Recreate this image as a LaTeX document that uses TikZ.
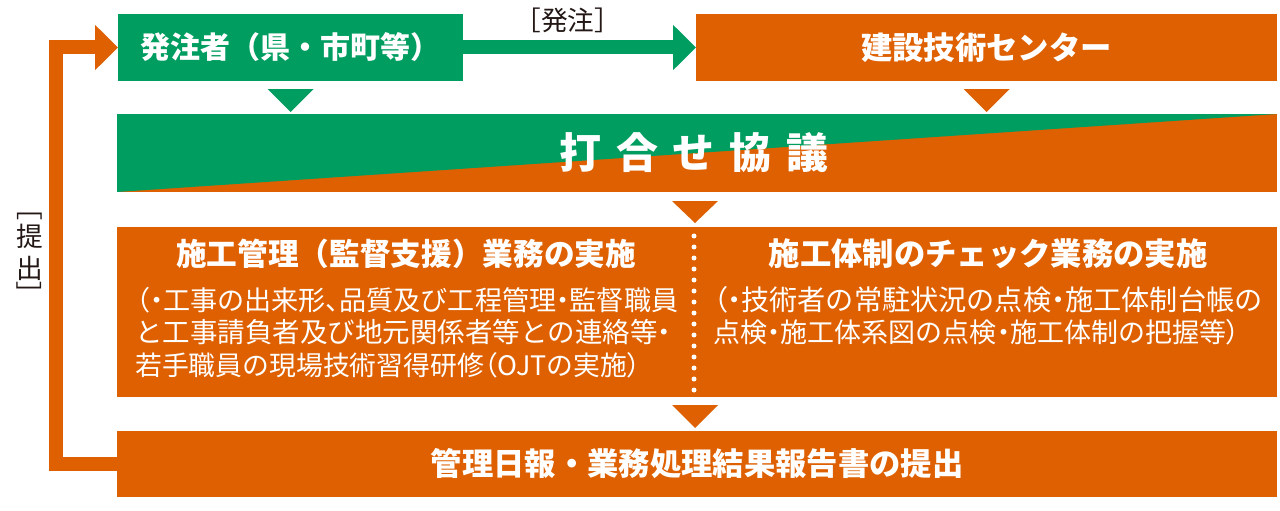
\documentclass[tikz,border=0pt]{standalone}
\usepackage{fontspec}
\usepackage{graphicx}
\usetikzlibrary{arrows.meta,calc}
\newfontfamily\jp{Noto Sans CJK JP}
\newcommand\pchunk[1]{{\addfontfeatures{RawFeature=+palt}#1}}
\definecolor{kgreen}{RGB}{0,157,97}
\definecolor{korange}{RGB}{222,96,0}
\definecolor{kdark}{RGB}{35,24,21}
\tikzset{
  box/.style={rectangle, inner sep=0pt, outer sep=0pt, text=white},
  gbox/.style={box, fill=kgreen},
  obox/.style={box, fill=korange},
  conn/.style={line width=10.5pt, -{Triangle[length=17.25pt,width=33pt]}},
  titletext/.style={text=white, inner sep=0pt, font=\jp\bfseries\fontsize{23pt}{27pt}\selectfont},
  bodytext/.style={text=white, inner sep=0pt, anchor=west, font=\jp\fontsize{19.5pt}{23pt}\selectfont},
  darktext/.style={text=kdark, inner sep=0pt, font=\jp\fontsize{20pt}{24pt}\selectfont},
}
\begin{document}
\begin{tikzpicture}[x=0.75pt, y=-0.75pt]
\useasboundingbox (0,0) rectangle (1280,510);

% top boxes
\node[gbox, minimum width=258.75pt, minimum height=50.25pt,
      font=\jp\bfseries\fontsize{22.5pt}{27pt}\selectfont] (hach) at (290.5,47.5) {発注者（県・市町等）};
\node[obox, minimum width=435.75pt, minimum height=50.25pt,
      font=\jp\bfseries\fontsize{23.5pt}{27pt}\selectfont] (kens) at (986.5,47.5) {建設技術センター};

% order arrow
\draw[conn, kgreen] (hach.east) -- node[pos=0.45, yshift=20.25pt, darktext] (lab) {［発注］} (kens.west);

% band
\node[obox, minimum width=870pt, minimum height=58.5pt] (band) at (697,153) {};
\fill[kgreen] (band.north west) -- (band.north east) -- (band.south west) -- cycle;
\node[text=white, inner sep=0pt, font=\jp\bfseries\fontsize{31.5pt}{34pt}\selectfont] (bandtext) at (694,152.5)
  {打\kern11.25pt 合\kern11.25pt せ\kern11.25pt 協\kern11.25pt 議};

% middle box
\node[obox, minimum width=870pt, minimum height=127.5pt] (mid) at (697,312) {};
\node[titletext] (h1) at (406,254) {施工管理（監督支援）業務の実施};
\node[titletext, font=\jp\bfseries\fontsize{23.5pt}{27pt}\selectfont] (h2) at (988,254) {施工体制のチェック業務の実施};
\node[bodytext] (l1) at (136,300) {\resizebox{406.5pt}{!}{\pchunk{（・}工事の出来形\pchunk{、}品質及び工程管理\pchunk{・}監督職員}};
\node[bodytext] (l2) at (135,332) {\resizebox{402pt}{!}{と工事請負者及び地元関係者等との連絡等\pchunk{・}}};
\node[bodytext] (l3) at (135,365) {\resizebox{379pt}{!}{若手職員の現場技術習得研修\pchunk{（}OJTの実施\pchunk{）}}};
\node[bodytext] (r1) at (713,300) {\resizebox{412pt}{!}{\pchunk{（・}技術者の常駐状況の点検\pchunk{・}施工体制台帳の}};
\node[bodytext] (r2) at (713,332) {\resizebox{395pt}{!}{点検\pchunk{・}施工体系図の点検\pchunk{・}施工体制の把握等\pchunk{）}}};
\draw[white, line width=3.75pt, line cap=round, dash pattern=on 0pt off 8.25pt]
  ($(mid.north)+(-3,9)$) -- ($(mid.south)+(-3,-6)$);

% bottom box
\node[obox, minimum width=870pt, minimum height=49.5pt,
      font=\jp\bfseries\fontsize{23.5pt}{27pt}\selectfont] (bot) at (697,464) {管理日報・業務処理結果報告書の提出};

% down triangles
\fill[kgreen] ($(hach.south)+(-23,8)$) -- ($(hach.south)+(23,8)$) -- ($(hach.south |- band.north)+(0,-2)$) -- cycle;
\fill[korange] ($(kens.south)+(-23,8)$) -- ($(kens.south)+(23,8)$) -- ($(kens.south |- band.north)+(0,-2)$) -- cycle;
\fill[korange] ($(band.south)+(-25,9)$) -- ($(band.south)+(21,9)$) -- ($(band.south |- mid.north)+(-2,-4)$) -- cycle;
\fill[korange] ($(mid.south)+(-25,8)$) -- ($(mid.south)+(21,8)$) -- ($(mid.south |- bot.north)+(-2,-3)$) -- cycle;

% submission loop
\coordinate (lc) at (56,47.5);
\draw[conn, korange] (bot.west) -| (lc) -- (hach.west);

% vertical label
\node[darktext] (br1) at (29.5,216.5) {﹇};
\node[darktext] (t1) at (29.5,236) {提};
\node[darktext] (t2) at (29.5,268) {出};
\node[darktext, rotate=180] (br2) at (29.5,285.5) {﹇};
\end{tikzpicture}
\end{document}
